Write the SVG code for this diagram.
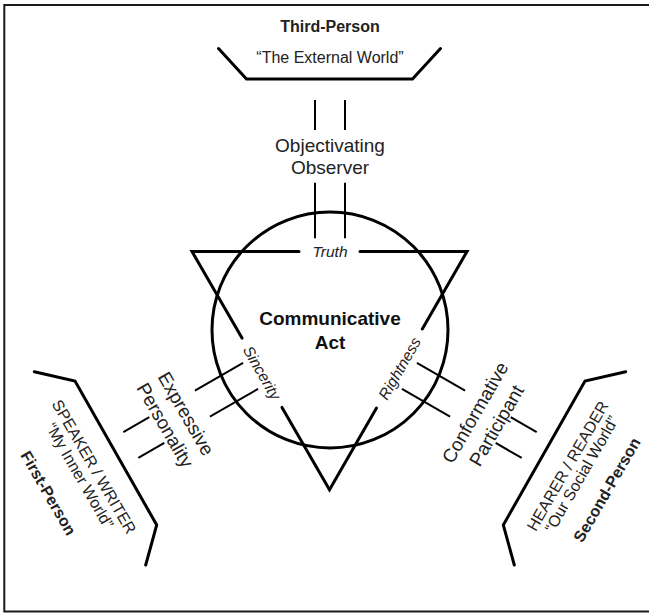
<svg xmlns="http://www.w3.org/2000/svg" width="649" height="613" viewBox="0 0 649 613">
  <style>
    .frame { fill: none; stroke: #1a1a1a; stroke-width: 2; }
    .heavy { fill: none; stroke: #000; stroke-width: 3; stroke-linecap: round; stroke-linejoin: miter; }
    .rail { fill: none; stroke: #000; stroke-width: 2; }
    text { font-family: "Liberation Sans", Arial, sans-serif; fill: #222; text-anchor: middle; }
    .title { font-size: 16px; font-weight: bold; }
    .world { font-size: 16px; }
    .role { font-size: 19px; }
    .claim { font-size: 15.5px; font-style: italic; }
    .act { font-size: 19px; font-weight: bold; fill: #111; }
  </style>
  <defs>
    <!-- one pair of rails along the upward axis; rotated copies serve the other two axes -->
    <g id="rails">
      <line class="rail" x1="315" y1="100" x2="315" y2="130"/>
      <line class="rail" x1="345" y1="100" x2="345" y2="130"/>
      <line class="rail" x1="315" y1="182.7" x2="315" y2="238.3"/>
      <line class="rail" x1="345" y1="182.7" x2="345" y2="238.3"/>
    </g>
  </defs>

  <rect width="649" height="613" fill="#fff"/>
  <path class="frame" d="M649 5 H4.3 V611.5 H649"/>

  <!-- connectors between the act and the three worlds -->
  <g id="connectors">
    <use href="#rails"/>
    <use href="#rails" transform="rotate(-120 330 330)"/>
    <use href="#rails" transform="rotate(120 330 330)"/>
    <text class="role" x="330" y="151.7">Objectivating</text>
    <text class="role" x="330" y="174">Observer</text>
    <g transform="rotate(60 330 330)">
      <text class="role" x="330.5" y="503">Expressive</text>
      <text class="role" x="330" y="527">Personality</text>
    </g>
    <g transform="rotate(-60 330 330)">
      <text class="role" x="331" y="503.5">Conformative</text>
      <text class="role" x="330.5" y="528.5">Participant</text>
    </g>
  </g>

  <!-- central node: circle and validity triangle -->
  <g id="communicative-act">
    <circle class="heavy" cx="330" cy="330" r="118"/>
    <path class="heavy" d="M299 251.5 H192 L242 338.1"/>
    <path class="heavy" d="M360 251.5 H467 L422.3 328.9"/>
    <path class="heavy" d="M282 407.4 L329.5 489.7 L376.5 408.1"/>
    <text class="claim" x="330" y="256.7">Truth</text>
    <text class="claim" transform="translate(262 372.7) rotate(60)" x="0" y="5.5">Sincerity</text>
    <text class="claim" transform="translate(399.5 368.4) rotate(-60)" x="0" y="5.5">Rightness</text>
    <text class="act" x="330" y="325.3">Communicative</text>
    <text class="act" x="330" y="349">Act</text>
  </g>

  <!-- third person -->
  <g id="third-person">
    <polyline class="heavy" points="218.5,48.5 246.5,79 412.5,79 440.5,48.5"/>
    <text class="title" x="330" y="32.3">Third-Person</text>
    <text class="world" x="330" y="63.3">“The External World”</text>
  </g>

  <!-- first person -->
  <g id="first-person">
    <polyline class="heavy" points="34.3,371.7 75,381 156.7,525 145.7,565"/>
    <g transform="rotate(60 330 330)">
      <text class="world" x="330.5" y="608.2">SPEAKER / WRITER</text>
      <text class="world" x="331" y="625">“My Inner World”</text>
      <text class="title" x="330.5" y="661">First-Person</text>
    </g>
  </g>

  <!-- second person -->
  <g id="second-person">
    <polyline class="heavy" points="625.7,371.7 585,381 503.3,525 514.3,565"/>
    <g transform="rotate(-60 330 330)">
      <text class="world" x="331" y="609.3">HEARER / READER</text>
      <text class="world" x="331" y="625.4">“Our Social World”</text>
      <text class="title" x="330" y="655.3">Second-Person</text>
    </g>
  </g>
</svg>
